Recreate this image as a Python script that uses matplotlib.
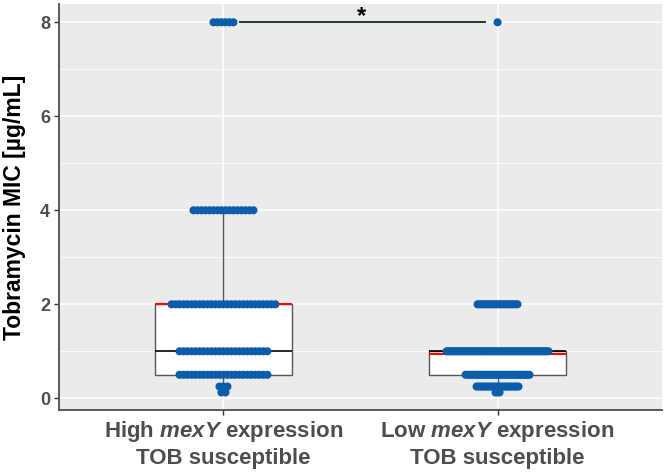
import numpy as np
import matplotlib
matplotlib.use("Agg")
import matplotlib.pyplot as plt

plt.rcParams['font.family'] = ['Liberation Sans', 'DejaVu Sans']
plt.rcParams['mathtext.fontset'] = 'custom'
plt.rcParams['mathtext.rm'] = 'Liberation Sans:bold'
plt.rcParams['mathtext.it'] = 'Liberation Sans:bold:italic'
plt.rcParams['mathtext.bf'] = 'Liberation Sans:bold'

# ---- data ----
categories = [r"High $\mathit{mexY}$ expression" + "\nTOB susceptible",
              r"Low $\mathit{mexY}$ expression" + "\nTOB susceptible"]
mic_levels = [0.125, 0.25, 0.5, 1, 2, 4, 8]
counts_high = [2, 3, 23, 23, 27, 16, 6]
counts_low = [3, 22, 33, 52, 21, 0, 1]
yticks = [0, 2, 4, 6, 8]
ylabel = "Tobramycin MIC [µg/mL]"
sig_label = "*"
sig_y = 8
sig_x = [1.06, 1.955]

# ---- style ----
panel_bg = "#EBEBEB"
dot_color = "#0B5CAB"
grey_text = "#4D4D4D"
px_per_unit_x = 274.6
spacing_px = [4.0, 2.0]

groups = [np.repeat(mic_levels, counts_high), np.repeat(mic_levels, counts_low)]
counts_all = [counts_high, counts_low]

fig = plt.figure(figsize=(6.66, 4.72), dpi=100)
ax = fig.add_axes([59/666, 62/472, (662-59)/666, (410-4)/472])
ax.set_facecolor(panel_bg)
ax.set_xlim(0.4, 2.6)
ax.set_ylim(-0.249, 8.389)

# grid
for y in [1, 3, 5, 7]:
    ax.axhline(y, color="white", lw=0.6, zorder=0.5)
for y in yticks:
    ax.axhline(y, color="white", lw=1.1, zorder=0.5)
for x in [1, 2]:
    ax.axvline(x, color="white", lw=1.1, zorder=0.5)

positions = [1, 2]
bp = ax.boxplot(groups, positions=positions, widths=0.5, whis=1.5,
                showfliers=False, showcaps=False, patch_artist=True,
                boxprops=dict(facecolor="white", edgecolor="#555555", lw=1.0),
                whiskerprops=dict(color="#555555", lw=1.0),
                medianprops=dict(color="black", lw=1.2), zorder=2)

# means
for pos, g in zip(positions, groups):
    m = np.mean(g)
    ax.hlines(m, pos - 0.25, pos + 0.25, color="red", lw=1.5, zorder=2.5)

# points (centered rows)
for pos, cnts, sp in zip(positions, counts_all, spacing_px):
    for lvl, n in zip(mic_levels, cnts):
        if n == 0:
            continue
        offs = (np.arange(n) - (n - 1) / 2) * sp / px_per_unit_x
        ax.scatter(pos + offs, np.full(n, lvl), s=34, color=dot_color,
                   edgecolors="none", zorder=3)

# significance bar
ax.plot(sig_x, [sig_y, sig_y], color="#1E3A2E", lw=1.4, zorder=3)
ax.text(np.mean(sig_x) - 0.005, sig_y + 0.12, sig_label, ha="center", va="center",
        fontsize=17, fontweight="bold", color="black")

ax.set_xticks(positions)
ax.set_xticklabels(categories, fontsize=16, fontweight="bold", color=grey_text,
                   linespacing=1.25)
ax.set_yticks(yticks)
ax.set_yticklabels([str(v) for v in yticks], fontsize=13, fontweight="bold",
                   color=grey_text)
ax.tick_params(axis="both", color="#333333", length=3.5, width=1.0)
ax.tick_params(axis="y", pad=3)
ax.tick_params(axis="x", pad=3)
ax.set_ylabel(ylabel, fontsize=16.5, fontweight="bold", color="black", labelpad=10)

for side in ["top", "right"]:
    ax.spines[side].set_visible(False)
for side in ["left", "bottom"]:
    ax.spines[side].set_color(grey_text)
    ax.spines[side].set_linewidth(1.3)

fig.savefig("out.png", dpi=100)
